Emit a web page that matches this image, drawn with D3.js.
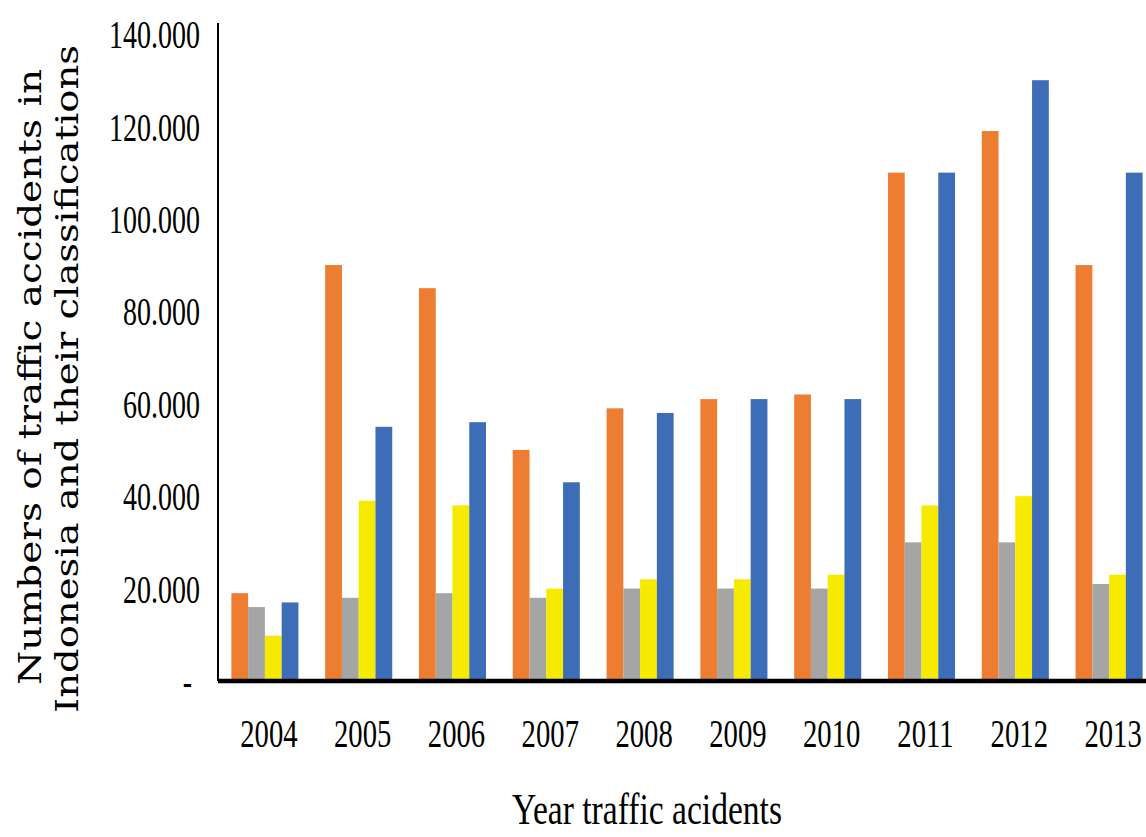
<!DOCTYPE html>
<html>
<head>
<meta charset="utf-8">
<script src="https://cdn.jsdelivr.net/npm/d3@7"></script>
<style>
  html, body { margin: 0; padding: 0; background: #ffffff; }
  svg { display: block; }
</style>
</head>
<body>
<svg id="chart" width="1146" height="837"></svg>
<script>
// ---- data ----
const years = ["2004", "2005", "2006", "2007", "2008", "2009", "2010", "2011", "2012", "2013"];
const seriesKeys = ["s1", "s2", "s3", "s4"];
const seriesColors = ["#ED7D31", "#A5A5A5", "#F5EA00", "#3D6DB6"];
const series1 = [19000, 90000, 85000, 50000, 59000, 61000, 62000, 110000, 119000, 90000];
const series2 = [16000, 18000, 19000, 18000, 20000, 20000, 20000, 30000, 30000, 21000];
const series3 = [9800, 39000, 38000, 20000, 22000, 22000, 23000, 38000, 40000, 23000];
const series4 = [17000, 55000, 56000, 43000, 58000, 61000, 61000, 110000, 130000, 110000];
const yTicks = [0, 20000, 40000, 60000, 80000, 100000, 120000, 140000];
const yTickLabels = ["-", "20.000", "40.000", "60.000", "80.000", "100.000", "120.000", "140.000"];
const xTitle = "Year traffic acidents";
const yTitleLines = ["Numbers of traffic accidents in", "Indonesia and their classifications"];

const allSeries = [series1, series2, series3, series4];

// ---- layout ----
const svg = d3.select("#chart");
const left = 218, baseY = 681, topY = 34;

const x = d3.scaleBand().domain(years).range([left, 1156])
  .paddingInner(0.285).paddingOuter(0.1425);
const xs = d3.scaleBand().domain(seriesKeys).range([0, x.bandwidth()]).padding(0);
const y = d3.scaleLinear().domain([0, 140000]).range([baseY, topY]);

// bars
const groups = svg.append("g").selectAll("g")
  .data(years).join("g")
  .attr("transform", d => `translate(${x(d)},0)`);

groups.selectAll("rect")
  .data((d, i) => seriesKeys.map((k, j) => ({ key: k, v: allSeries[j][i], c: seriesColors[j] })))
  .join("rect")
  .attr("x", d => xs(d.key))
  .attr("width", xs.bandwidth())
  .attr("y", d => y(d.v))
  .attr("height", d => y(0) - y(d.v))
  .attr("fill", d => d.c);

// y axis
const yAxis = svg.append("g")
  .attr("transform", `translate(${left},0)`)
  .call(d3.axisLeft(y).tickValues(yTicks)
    .tickFormat((d, i) => yTickLabels[i]).tickSize(0));
yAxis.select(".domain").remove();
yAxis.append("line")
  .attr("x1", 0).attr("x2", 0)
  .attr("y1", y.range()[1] - 11).attr("y2", y.range()[0])
  .attr("stroke", "#000").attr("stroke-width", 2);
yAxis.selectAll(".tick text")
  .attr("x", 0).attr("dy", "0.34em")
  .attr("fill", "#000")
  .attr("font-family", "'Liberation Serif', 'Times New Roman', serif")
  .attr("font-size", 40)
  .attr("text-anchor", "end")
  .attr("transform", (d, i) => `translate(${i === 0 ? -26 : -18},0) scale(0.7,1)`);

// x axis
const xAxis = svg.append("g")
  .attr("transform", `translate(0,${baseY})`)
  .call(d3.axisBottom(x).tickSize(0));
xAxis.select(".domain").remove();
xAxis.append("line")
  .attr("x1", left).attr("x2", 1146)
  .attr("y1", 0).attr("y2", 0)
  .attr("stroke", "#000").attr("stroke-width", 4.5);
xAxis.selectAll(".tick text")
  .attr("x", 0).attr("y", 66).attr("dy", 0)
  .attr("fill", "#000")
  .attr("font-family", "'Liberation Serif', 'Times New Roman', serif")
  .attr("font-size", 41)
  .attr("text-anchor", "middle")
  .attr("transform", "translate(4,0) scale(0.7,1)");

// x title
svg.append("text")
  .attr("x", 647).attr("y", 824)
  .attr("text-anchor", "middle")
  .attr("font-family", "'Liberation Serif', 'Times New Roman', serif")
  .attr("font-size", 44)
  .attr("textLength", 270)
  .attr("lengthAdjust", "spacingAndGlyphs")
  .attr("fill", "#000")
  .text(xTitle);

// y title (two lines, rotated)
const yTitlePos = [{ bx: 41, cy: 377, len: 616 }, { bx: 78, cy: 379, len: 668 }];
svg.append("g").selectAll("text")
  .data(yTitleLines).join("text")
  .attr("transform", (d, i) => `translate(${yTitlePos[i].bx},${yTitlePos[i].cy}) rotate(-90)`)
  .attr("text-anchor", "middle")
  .attr("font-family", "'DejaVu Serif', serif")
  .attr("font-size", 32)
  .attr("textLength", (d, i) => yTitlePos[i].len)
  .attr("lengthAdjust", "spacingAndGlyphs")
  .attr("fill", "#000")
  .text(d => d);
</script>
</body>
</html>
